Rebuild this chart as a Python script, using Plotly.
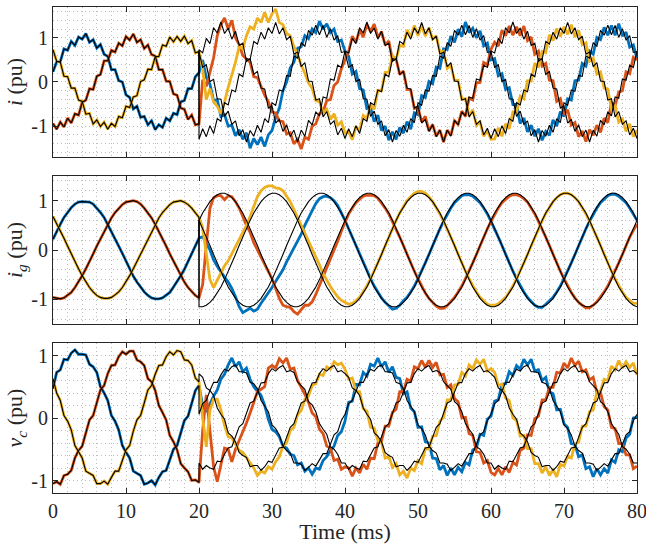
import plotly.graph_objects as go

# ---------------- time grids (ms), 0.5 ms sampling ----------------
DT = 0.5
t_pre = [k * DT for k in range(41)]            # 0 .. 20 ms
t_tr = [20.5 + k * DT for k in range(40)]      # 20.5 .. 40 ms (transient)
t_ref = [20.0 + k * DT for k in range(41)]     # 20 .. 40 ms (reference after step)
t_ss = [40.5 + k * DT for k in range(80)]      # 40.5 .. 80 ms

x_ticks = [0, 10, 20, 30, 40, 50, 60, 70, 80]
y_ticks = [-1, 0, 1]
y_tick_text = ["-1", "0", "1"]

# ---------------- top panel: i (pu) ----------------
top_a_pre = [0.23,0.46,0.46,0.75,0.72,0.92,0.83,1.02,0.97,1.10,
             0.90,0.96,0.77,0.85,0.63,0.58,0.28,0.28,0.03,0.00,
             -0.29,-0.35,-0.61,-0.55,-0.80,-0.78,-0.97,-0.88,-1.08,-0.97,
             -1.03,-0.82,-0.88,-0.71,-0.74,-0.45,-0.42,-0.15,-0.15,0.12,0.21]
top_b_pre = [-0.94,-1.07,-0.91,-1.02,-0.82,-0.93,-0.72,-0.75,-0.46,-0.41,
             -0.15,-0.17,0.13,0.17,0.48,0.48,0.72,0.68,0.88,0.82,
             1.03,0.95,1.09,0.90,0.96,0.76,0.84,0.62,0.59,0.28,
             0.28,0.02,0.01,-0.27,-0.30,-0.59,-0.62,-0.85,-0.75,-0.97,-0.95]
top_c_pre = [0.73,0.47,0.45,0.13,0.12,-0.14,-0.14,-0.41,-0.44,-0.73,
             -0.71,-0.95,-0.86,-1.01,-0.91,-1.07,-0.94,-1.01,-0.78,-0.81,
             -0.55,-0.58,-0.34,-0.31,0.01,0.05,0.29,0.28,0.57,0.58,
             0.84,0.81,1.02,0.91,1.03,0.92,1.04,0.87,0.94,0.66,0.69]

top_a_tr = [0.5,0.1,-0.05,-0.42,-0.4,-0.78,-0.74,-1.0,-0.98,-1.22,
            -1.08,-1.3,-1.15,-1.5,-1.28,-1.42,-1.25,-1.46,-1.2,-1.1,
            -0.8,-0.6,-0.2,0.0,0.32,0.45,0.76,0.8,1.05,0.98,
            1.2,1.12,1.38,1.2,1.32,1.12,1.2,0.92,0.95,0.7]
top_b_tr = [0.05,-0.1,0.2,0.55,1.05,1.3,1.45,1.2,1.4,1.0,
            0.85,0.6,0.52,0.45,0.12,0.1,-0.1,-0.3,-0.45,-0.68,
            -0.7,-0.88,-0.9,-1.18,-1.15,-1.4,-1.3,-1.52,-1.25,-1.3,
            -1.0,-0.95,-0.72,-0.68,-0.42,-0.4,-0.08,0.0,0.3,0.48]
top_c_tr = [0.3,-0.4,-0.15,-0.45,-0.55,-0.72,-0.45,-0.12,0.15,0.45,
            0.8,0.75,1.05,1.25,1.2,1.45,1.35,1.58,1.35,1.55,
            1.65,1.35,1.3,1.1,1.05,0.8,0.62,0.38,0.2,-0.02,
            -0.15,-0.42,-0.45,-0.7,-0.62,-0.85,-0.72,-0.98,-0.9,-1.15]

top_a_ss = [0.58,0.18,0.24,-0.15,-0.18,-0.60,-0.58,-0.90,-0.75,-1.10,
            -1.00,-1.32,-1.13,-1.30,-1.03,-1.16,-0.90,-1.07,-0.70,-0.74,
            -0.31,-0.35,0.01,-0.04,0.34,0.31,0.75,0.74,1.04,0.90,
            1.20,1.03,1.36,1.12,1.22,1.00,1.16,0.82,0.88,0.50,
            0.53,0.14,0.19,-0.17,-0.13,-0.51,-0.51,-0.94,-0.82,-1.13,
            -0.98,-1.23,-1.06,-1.32,-1.12,-1.21,-0.86,-1.00,-0.67,-0.78,
            -0.38,-0.41,0.03,0.04,0.42,0.36,0.70,0.63,1.01,0.96,
            1.24,1.06,1.28,1.06,1.32,1.04,1.13,0.79,0.84,0.53]
top_b_ss = [0.69,1.04,0.90,1.18,1.02,1.30,1.15,1.31,1.01,1.14,
            0.84,0.93,0.50,0.52,0.17,0.25,-0.17,-0.18,-0.60,-0.58,
            -0.90,-0.78,-1.11,-0.96,-1.23,-1.09,-1.36,-1.09,-1.21,-0.88,
            -0.96,-0.66,-0.78,-0.37,-0.41,-0.02,-0.01,0.44,0.39,0.74,
            0.90,0.81,1.17,1.05,1.27,1.06,1.25,1.05,1.27,0.94,
            1.02,0.63,0.70,0.36,0.42,0.04,0.03,-0.44,-0.38,-0.74,
            -0.63,-0.98,-0.92,-1.24,-1.11,-1.35,-1.08,-1.21,-0.98,-1.14,
            -0.82,-0.92,-0.47,-0.54,-0.23,-0.20,0.23,0.19,0.56,0.50]
top_c_ss = [-1.13,-1.31,-1.01,-1.10,-0.76,-0.83,-0.51,-0.62,-0.19,-0.20,
            0.22,0.22,0.60,0.51,0.83,0.81,1.18,1.02,1.28,1.05,
            1.28,1.04,1.23,0.97,1.05,0.68,0.70,0.31,0.38,0.03,
            0.04,-0.39,-0.38,-0.77,-0.63,-0.98,-0.91,-1.23,-1.11,-1.30,
            -1.29,-1.04,-1.23,-0.95,-1.06,-0.68,-0.68,-0.32,-0.38,0.03,
            0.02,0.43,0.33,0.69,0.67,1.07,0.94,1.21,1.03,1.25,
            1.08,1.30,1.02,1.17,0.85,0.89,0.47,0.54,0.18,0.23,
            -0.14,-0.16,-0.61,-0.54,-0.91,-0.84,-1.12,-0.95,-1.24,-1.09]

# black reference traces after the step (one 20 ms period, 20..40 ms)
top_a_ref = [0.68,0.33,0.39,0.01,0.06,-0.38,-0.39,-0.78,-0.66,-0.96,
             -0.88,-1.22,-1.08,-1.36,-1.10,-1.23,-0.98,-1.14,-0.83,-0.92,
             -0.47,-0.53,-0.18,-0.21,0.15,0.13,0.59,0.54,0.89,0.81,
             1.17,1.06,1.29,1.07,1.28,1.01,1.21,0.95,1.05,0.67,0.69]
top_b_ref = [0.73,0.66,0.99,0.87,1.23,1.11,1.36,1.10,1.22,0.97,
             1.15,0.83,0.88,0.47,0.53,0.17,0.24,-0.14,-0.16,-0.59,
             -0.54,-0.93,-0.85,-1.12,-0.97,-1.24,-1.09,-1.36,-1.09,-1.23,
             -0.87,-0.97,-0.68,-0.77,-0.34,-0.37,0.07,0.04,0.38,0.33,0.70]
top_c_ref = [-1.30,-1.06,-1.24,-0.99,-1.17,-0.83,-0.89,-0.47,-0.52,-0.18,
             -0.22,0.18,0.12,0.53,0.51,0.92,0.86,1.13,0.97,1.23,
             1.10,1.35,1.09,1.23,0.96,1.04,0.63,0.68,0.35,0.44,
             0.02,0.01,-0.41,-0.38,-0.79,-0.67,-0.96,-0.88,-1.20,-1.05,-1.28]

# ---------------- middle panel: i_g (pu) ----------------
mid_a_pre = [0.22,0.38,0.52,0.66,0.76,0.86,0.93,0.97,0.98,0.98,
             0.97,0.93,0.85,0.76,0.66,0.52,0.39,0.23,0.08,-0.07,
             -0.23,-0.38,-0.53,-0.65,-0.76,-0.85,-0.92,-0.97,-0.99,-0.99,
             -0.97,-0.92,-0.86,-0.75,-0.64,-0.52,-0.39,-0.23,-0.08,0.08,0.24]
mid_b_pre = [-0.96,-0.98,-0.99,-0.97,-0.92,-0.86,-0.76,-0.65,-0.52,-0.38,
             -0.24,-0.08,0.08,0.23,0.38,0.52,0.65,0.76,0.85,0.92,
             0.97,0.99,1.0,0.98,0.93,0.85,0.76,0.65,0.52,0.38,
             0.23,0.08,-0.08,-0.23,-0.38,-0.52,-0.65,-0.76,-0.85,-0.92,-0.97]
mid_c_pre = [0.68,0.54,0.39,0.24,0.08,-0.08,-0.23,-0.38,-0.52,-0.65,
             -0.76,-0.85,-0.92,-0.96,-0.98,-0.98,-0.96,-0.91,-0.85,-0.76,
             -0.65,-0.52,-0.38,-0.23,-0.08,0.08,0.23,0.38,0.52,0.65,
             0.76,0.85,0.92,0.97,0.99,1.0,0.97,0.92,0.85,0.76,0.66]

mid_a_tr = [0.27,0.15,0.0,-0.2,-0.33,-0.45,-0.55,-0.65,-0.78,-0.95,
            -1.15,-1.27,-1.22,-1.18,-1.24,-1.2,-1.08,-0.98,-0.88,-0.76,
            -0.64,-0.52,-0.4,-0.24,-0.1,0.05,0.18,0.32,0.5,0.66,
            0.8,0.94,1.04,1.08,1.09,1.06,1.0,0.9,0.76,0.6]
mid_b_tr = [-0.7,0.1,0.85,1.06,1.1,1.1,1.02,1.1,1.08,0.98,
            0.85,0.68,0.5,0.36,0.15,0.0,-0.15,-0.3,-0.45,-0.58,
            -0.78,-0.98,-1.12,-1.15,-1.16,-1.25,-1.3,-1.2,-1.12,-1.12,
            -1.05,-0.9,-0.72,-0.55,-0.38,-0.2,-0.02,0.18,0.38,0.56]
mid_c_tr = [0.45,-0.1,-0.6,-0.76,-0.62,-0.45,-0.32,-0.22,-0.08,0.05,
            0.2,0.35,0.5,0.68,0.88,1.08,1.2,1.27,1.3,1.3,
            1.26,1.25,1.2,1.1,0.98,0.82,0.66,0.5,0.35,0.2,
            0.05,-0.12,-0.3,-0.48,-0.62,-0.74,-0.85,-0.95,-1.02,-1.06]

mid_a_ss = [0.43,0.26,0.09,-0.09,-0.26,-0.43,-0.58,-0.73,-0.85,-0.97,
            -1.06,-1.14,-1.2,-1.18,-1.12,-1.03,-0.96,-0.85,-0.73,-0.58,
            -0.43,-0.26,-0.09,0.09,0.26,0.43,0.58,0.73,0.85,0.96,
            1.04,1.1,1.12,1.12,1.09,1.03,0.96,0.85,0.73,0.58,
            0.43,0.26,0.09,-0.09,-0.26,-0.43,-0.58,-0.73,-0.85,-0.96,
            -1.05,-1.12,-1.16,-1.16,-1.1,-1.03,-0.96,-0.85,-0.73,-0.58,
            -0.43,-0.26,-0.09,0.09,0.26,0.43,0.58,0.73,0.85,0.96,
            1.04,1.1,1.13,1.13,1.09,1.03,0.96,0.85,0.73,0.6]
mid_b_ss = [0.73,0.85,0.96,1.03,1.09,1.11,1.11,1.1,1.05,0.96,
            0.85,0.73,0.58,0.43,0.26,0.09,-0.09,-0.26,-0.43,-0.58,
            -0.73,-0.87,-0.98,-1.06,-1.14,-1.18,-1.18,-1.13,-1.05,-0.96,
            -0.85,-0.73,-0.58,-0.43,-0.26,-0.09,0.09,0.26,0.43,0.58,
            0.73,0.85,0.96,1.03,1.09,1.12,1.12,1.09,1.04,0.97,
            0.85,0.73,0.58,0.43,0.26,0.09,-0.09,-0.26,-0.43,-0.58,
            -0.73,-0.86,-0.97,-1.06,-1.12,-1.17,-1.17,-1.12,-1.05,-0.96,
            -0.85,-0.73,-0.58,-0.43,-0.26,-0.09,0.09,0.26,0.4,0.52]
mid_c_ss = [-1.1,-1.08,-1.03,-0.96,-0.85,-0.73,-0.58,-0.43,-0.26,-0.09,
            0.09,0.26,0.43,0.6,0.75,0.88,1.0,1.08,1.15,1.19,
            1.19,1.15,1.08,0.98,0.86,0.73,0.58,0.43,0.26,0.09,
            -0.09,-0.26,-0.43,-0.58,-0.73,-0.85,-0.96,-1.04,-1.1,-1.12,
            -1.12,-1.09,-1.03,-0.96,-0.85,-0.73,-0.58,-0.43,-0.26,-0.09,
            0.09,0.26,0.43,0.59,0.74,0.87,0.98,1.06,1.12,1.15,
            1.15,1.12,1.06,0.98,0.86,0.73,0.58,0.43,0.26,0.09,
            -0.09,-0.26,-0.43,-0.58,-0.73,-0.85,-0.96,-1.03,-1.08,-1.08]

mid_a_ref = [0.60,0.44,0.27,0.09,-0.09,-0.27,-0.44,-0.60,-0.75,-0.87,
             -0.98,-1.06,-1.12,-1.15,-1.15,-1.12,-1.06,-0.98,-0.87,-0.75,
             -0.60,-0.44,-0.27,-0.09,0.09,0.27,0.44,0.60,0.75,0.87,
             0.98,1.06,1.12,1.15,1.15,1.12,1.06,0.98,0.87,0.75,0.60]
mid_b_ref = [0.60,0.75,0.87,0.98,1.06,1.12,1.15,1.15,1.12,1.06,
             0.98,0.87,0.75,0.60,0.44,0.27,0.09,-0.09,-0.27,-0.44,
             -0.60,-0.75,-0.87,-0.98,-1.06,-1.12,-1.15,-1.15,-1.12,-1.06,
             -0.98,-0.87,-0.75,-0.60,-0.44,-0.27,-0.09,0.09,0.27,0.44,0.60]
mid_c_ref = [-1.15,-1.15,-1.12,-1.06,-0.98,-0.87,-0.75,-0.60,-0.44,-0.27,
             -0.09,0.09,0.27,0.44,0.60,0.75,0.87,0.98,1.06,1.12,
             1.15,1.15,1.12,1.06,0.98,0.87,0.75,0.60,0.44,0.27,
             0.09,-0.09,-0.27,-0.44,-0.60,-0.75,-0.87,-0.98,-1.06,-1.12,-1.15]

# ---------------- bottom panel: v_c (pu) ----------------
bot_a_pre = [0.47,0.73,0.77,0.94,0.93,1.04,1.09,1.02,1.02,1.01,
             0.86,0.82,0.73,0.50,0.40,0.28,0.04,-0.05,-0.19,-0.44,
             -0.55,-0.64,-0.85,-0.88,-0.92,-1.06,-1.04,-1.00,-1.07,-0.95,
             -0.86,-0.84,-0.68,-0.50,-0.44,-0.22,-0.04,0.03,0.25,0.44,0.52]
bot_b_pre = [-1.05,-1.02,-1.06,-0.92,-0.90,-0.84,-0.64,-0.52,-0.45,-0.22,
             -0.03,0.04,0.24,0.45,0.52,0.71,0.84,0.85,0.98,1.06,
             1.02,1.07,1.07,0.93,0.90,0.84,0.63,0.58,0.44,0.20,
             0.09,-0.03,-0.28,-0.38,-0.51,-0.73,-0.80,-0.86,-1.00,-0.99,-1.03]
bot_c_pre = [0.63,0.40,0.28,0.04,-0.05,-0.19,-0.44,-0.54,-0.64,-0.85,
             -0.88,-0.92,-1.05,-1.05,-1.01,-1.06,-0.95,-0.85,-0.85,-0.67,
             -0.51,-0.44,-0.21,-0.03,0.04,0.24,0.45,0.52,0.70,0.84,
             0.85,0.98,1.06,1.01,1.08,1.06,0.93,0.92,0.85,0.64,0.58]

bot_a_tr = [0.2,0.1,0.24,0.35,0.45,0.62,0.7,0.85,0.96,0.82,
            0.9,0.74,0.8,0.62,0.5,0.42,0.36,0.2,-0.02,-0.18,
            -0.22,-0.3,-0.45,-0.48,-0.58,-0.6,-0.75,-0.72,-0.85,-0.8,
            -0.9,-0.8,-0.82,-0.68,-0.62,-0.52,-0.45,-0.28,-0.22,-0.05]
bot_b_tr = [-0.2,0.37,-0.19,-0.78,-1.02,-0.75,-0.48,-0.5,-0.7,-0.5,
            -0.36,-0.25,-0.08,0.08,0.25,0.42,0.46,0.5,0.8,0.84,
            0.8,0.95,0.88,0.96,0.78,0.8,0.6,0.5,0.38,0.25,
            0.08,0.02,-0.18,-0.25,-0.45,-0.48,-0.68,-0.66,-0.82,-0.78]
bot_c_tr = [0.0,-0.46,0.13,0.3,0.3,0.13,-0.12,-0.3,-0.32,-0.42,
            -0.52,-0.55,-0.63,-0.72,-0.8,-0.92,-0.85,-0.88,-0.78,-0.82,
            -0.7,-0.62,-0.45,-0.4,-0.2,-0.15,0.05,0.12,0.3,0.35,
            0.52,0.55,0.7,0.68,0.82,0.78,0.9,0.85,0.88,0.78]

bot_a_ss = [0.25,0.27,0.54,0.53,0.73,0.67,0.86,0.83,0.96,0.82,
            0.90,0.73,0.82,0.65,0.63,0.39,0.42,0.16,0.10,-0.15,
            -0.14,-0.38,-0.40,-0.64,-0.65,-0.83,-0.76,-0.92,-0.80,-0.91,
            -0.79,-0.86,-0.71,-0.75,-0.51,-0.48,-0.26,-0.28,-0.02,0.03,
            0.27,0.29,0.54,0.55,0.74,0.68,0.84,0.78,0.94,0.85,
            0.94,0.75,0.77,0.60,0.65,0.42,0.39,0.13,0.14,-0.09,
            -0.15,-0.41,-0.42,-0.62,-0.59,-0.81,-0.78,-0.94,-0.81,-0.91,
            -0.81,-0.88,-0.67,-0.71,-0.51,-0.54,-0.32,-0.26,0.00,0.01]
bot_b_ss = [-0.80,-0.93,-0.80,-0.88,-0.74,-0.82,-0.64,-0.65,-0.40,-0.37,
            -0.13,-0.13,0.09,0.14,0.42,0.42,0.62,0.59,0.82,0.79,
            0.92,0.81,0.92,0.81,0.89,0.69,0.70,0.49,0.53,0.31,
            0.26,0.00,0.01,-0.25,-0.28,-0.54,-0.55,-0.72,-0.68,-0.87,
            -0.91,-0.81,-0.91,-0.78,-0.87,-0.71,-0.75,-0.52,-0.48,-0.27,
            -0.28,-0.01,0.03,0.29,0.29,0.49,0.49,0.73,0.72,0.88,
            0.80,0.96,0.84,0.91,0.74,0.77,0.61,0.65,0.41,0.41,
            0.18,0.13,-0.15,-0.17,-0.41,-0.41,-0.59,-0.59,-0.81,-0.77]
bot_c_ss = [0.62,0.64,0.43,0.42,0.15,0.11,-0.15,-0.16,-0.36,-0.39,
            -0.64,-0.61,-0.79,-0.73,-0.91,-0.85,-0.96,-0.80,-0.84,-0.68,
            -0.73,-0.49,-0.50,-0.29,-0.28,-0.05,0.01,0.29,0.29,0.53,
            0.54,0.73,0.67,0.85,0.79,0.93,0.86,0.94,0.75,0.79,
            0.73,0.52,0.54,0.32,0.28,0.00,-0.04,-0.29,-0.28,-0.49,
            -0.49,-0.73,-0.73,-0.88,-0.78,-0.92,-0.83,-0.94,-0.74,-0.77,
            -0.61,-0.64,-0.42,-0.39,-0.13,-0.13,0.10,0.13,0.41,0.43,
            0.62,0.60,0.83,0.77,0.92,0.80,0.90,0.81,0.88,0.69]

bot_a_ref = [0.06,0.23,0.28,0.44,0.57,0.57,0.69,0.78,0.75,0.82,
             0.85,0.74,0.74,0.72,0.57,0.55,0.47,0.28,0.20,0.10,
             -0.11,-0.17,-0.27,-0.45,-0.52,-0.56,-0.72,-0.72,-0.74,-0.84,
             -0.79,-0.73,-0.77,-0.66,-0.57,-0.57,-0.42,-0.27,-0.22,-0.04,0.06]
bot_b_ref = [-0.72,-0.82,-0.76,-0.80,-0.82,-0.69,-0.70,-0.58,-0.48,-0.46,
             -0.30,-0.14,-0.09,0.08,0.24,0.27,0.42,0.56,0.57,0.71,
             0.79,0.75,0.81,0.84,0.74,0.76,0.73,0.58,0.52,0.46,
             0.26,0.21,0.10,-0.09,-0.18,-0.26,-0.46,-0.50,-0.58,-0.72,-0.72]
bot_c_ref = [0.71,0.65,0.48,0.44,0.36,0.16,0.06,-0.02,-0.24,-0.29,
             -0.38,-0.55,-0.60,-0.63,-0.78,-0.76,-0.76,-0.84,-0.78,-0.69,
             -0.71,-0.59,-0.48,-0.47,-0.30,-0.15,-0.09,0.08,0.24,0.27,
             0.42,0.56,0.57,0.71,0.79,0.75,0.81,0.84,0.74,0.76,0.71]

panels = [
    dict(pre=[top_a_pre, top_b_pre, top_c_pre], tr=[top_a_tr, top_b_tr, top_c_tr],
         ss=[top_a_ss, top_b_ss, top_c_ss], ref=[top_a_ref, top_b_ref, top_c_ref],
         yrange=[-1.7, 1.7], title="<i>i</i> (pu)", domain=[0.6914, 1.0]),
    dict(pre=[mid_a_pre, mid_b_pre, mid_c_pre], tr=[mid_a_tr, mid_b_tr, mid_c_tr],
         ss=[mid_a_ss, mid_b_ss, mid_c_ss], ref=[mid_a_ref, mid_b_ref, mid_c_ref],
         yrange=[-1.5, 1.5], title="<i>i</i><sub><i>g</i></sub> (pu)", domain=[0.3477, 0.6523]),
    dict(pre=[bot_a_pre, bot_b_pre, bot_c_pre], tr=[bot_a_tr, bot_b_tr, bot_c_tr],
         ss=[bot_a_ss, bot_b_ss, bot_c_ss], ref=[bot_a_ref, bot_b_ref, bot_c_ref],
         yrange=[-1.2, 1.2], title="<i>v</i><sub><i>c</i></sub> (pu)", domain=[0.0, 0.3086]),
]

phase_colors = ["#0072BD", "#D95319", "#EDB120"]
FONT = "Liberation Serif, serif"
AX = "#262626"
GRID = "#bdbdbd"

fig = go.Figure()
x_col = t_pre + t_tr + t_ss
x_blk = t_pre + t_ref + t_ss

for p, panel in enumerate(panels):
    xa = "x" if p == 0 else f"x{p + 1}"
    ya = "y" if p == 0 else f"y{p + 1}"
    for k in range(3):
        y_col = panel["pre"][k] + panel["tr"][k] + panel["ss"][k]
        assert len(y_col) == len(x_col), (p, k, len(y_col))
        fig.add_trace(go.Scatter(x=x_col, y=y_col, mode="lines", xaxis=xa, yaxis=ya,
                                 line=dict(color=phase_colors[k], width=2.8),
                                 showlegend=False, hoverinfo="skip"))
    for k in range(3):
        ref = panel["ref"][k]
        # the periodic reference (one 20 ms period) repeats for 40..60 and 60..80 ms
        y_blk = panel["pre"][k] + ref + ref[1:] + ref[1:]
        assert len(y_blk) == len(x_blk), (p, k, len(y_blk))
        fig.add_trace(go.Scatter(x=x_blk, y=y_blk, mode="lines", xaxis=xa, yaxis=ya,
                                 line=dict(color="#000000", width=1.1),
                                 showlegend=False, hoverinfo="skip"))

layout = dict(
    width=646, height=544, autosize=False,
    margin=dict(l=53, r=9, t=7, b=51, autoexpand=False),
    paper_bgcolor="white", plot_bgcolor="white",
    font=dict(family=FONT, color=AX, size=20),
    showlegend=False,
)

for p, panel in enumerate(panels):
    xkey = "xaxis" if p == 0 else f"xaxis{p + 1}"
    ykey = "yaxis" if p == 0 else f"yaxis{p + 1}"
    yref = "y" if p == 0 else f"y{p + 1}"
    xref = "x" if p == 0 else f"x{p + 1}"
    last = (p == len(panels) - 1)
    xa = dict(
        domain=[0, 1], anchor=yref, range=[0, 80], automargin=False,
        tickmode="array", tickvals=x_ticks, ticktext=[str(v) for v in x_ticks],
        showticklabels=last, ticks="inside", ticklen=5, tickwidth=1, tickcolor=AX,
        ticklabeloverflow="allow",
        showline=True, linecolor=AX, linewidth=1, mirror="ticks",
        showgrid=True, gridcolor=GRID, gridwidth=1, griddash="1px,3px",
        minor=dict(dtick=2, tick0=0, showgrid=True, gridcolor=GRID, gridwidth=1,
                   griddash="1px,3px", ticks=""),
        zeroline=False, tickfont=dict(family=FONT, size=20, color=AX),
    )
    if p != 0:
        xa["matches"] = "x"
    if last:
        xa["title"] = dict(text="Time (ms)", font=dict(family=FONT, size=22, color=AX),
                           standoff=7)
    layout[xkey] = xa
    layout[ykey] = dict(
        domain=panel["domain"], anchor=xref, range=panel["yrange"], automargin=False,
        tickmode="array", tickvals=y_ticks, ticktext=y_tick_text,
        ticks="inside", ticklen=5, tickwidth=1, tickcolor=AX,
        showline=True, linecolor=AX, linewidth=1, mirror="ticks",
        showgrid=True, gridcolor=GRID, gridwidth=1, griddash="1px,3px",
        minor=dict(dtick=0.2, tick0=0, showgrid=True, gridcolor=GRID, gridwidth=1,
                   griddash="1px,3px", ticks=""),
        zeroline=False, tickfont=dict(family=FONT, size=20, color=AX),
        title=dict(text=panel["title"], font=dict(family=FONT, size=22, color=AX),
                   standoff=2),
    )

fig.update_layout(**layout)

# remove the browser's default page margin so the 646x544 figure fills the window
page_fix = (
    "document.body.style.margin='0px';"
    "document.body.style.overflow='hidden';"
    "var gd=document.getElementById('{plot_id}');"
    "Plotly.relayout(gd,{width:646,height:544});"
)
fig.write_html("out.html", config={"responsive": False, "displayModeBar": False},
               post_script=page_fix)
